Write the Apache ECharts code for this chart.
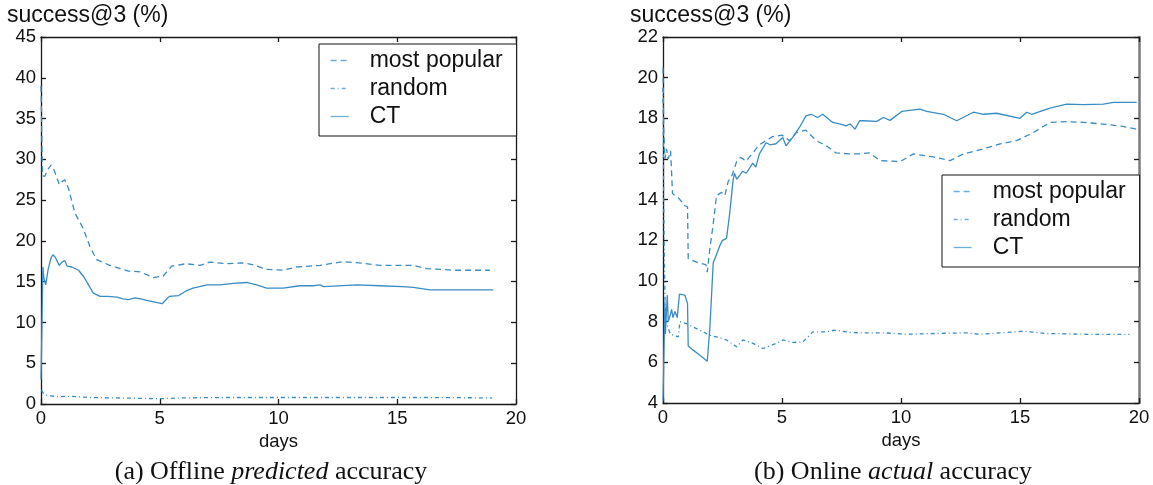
<!DOCTYPE html>
<html>
<head>
<meta charset="utf-8">
<script src="https://cdn.jsdelivr.net/npm/echarts@6/dist/echarts.min.js"></script>
<style>
  html, body { margin: 0; padding: 0; background: #fff; }
  #chart { width: 1153px; height: 485px; }
</style>
</head>
<body>
<div id="chart"></div>
<script>
// Tick values shared by both panels
const dayTicks = [0, 5, 10, 15, 20];

// (a) Offline predicted accuracy: [day, success@3 %]
const offlinePopular = [[0,39],[0.02,35.7],[0.06,28],[0.15,27.9],[0.3,28.8],[0.42,29.3],[0.55,28.7],[0.63,28.7],[0.77,26.9],[0.9,27.3],[1.0,27.5],[1.16,26.4],[1.43,23.4],[1.78,21.5],[2.06,19.3],[2.34,17.7],[2.9,17.0],[3.33,16.6],[3.68,16.3],[4.17,16.2],[4.5,15.8],[4.73,15.5],[5.15,15.7],[5.5,16.9],[6.1,17.2],[6.7,17.0],[7.1,17.4],[7.8,17.2],[8.5,17.3],[8.9,17.1],[9.5,16.5],[10.2,16.4],[10.76,16.8],[11.75,17.0],[12.7,17.45],[13.4,17.3],[14.27,17.0],[15.68,17.0],[16.24,16.6],[17.4,16.4],[18.9,16.4]];
const offlineRandom = [[0.02,1.7],[0.1,1.3],[0.3,1.0],[0.8,0.9],[1.2,0.95],[2,0.8],[3,0.75],[4,0.7],[5,0.65],[6,0.75],[8,0.8],[10,0.8],[12,0.8],[14,0.8],[16,0.8],[19,0.75]];
const offlineCT = [[0,3],[0.03,8],[0.08,16.8],[0.12,15.5],[0.2,14.6],[0.3,16.5],[0.42,17.9],[0.5,18.3],[0.6,18.0],[0.77,17.0],[0.88,17.4],[1.0,17.6],[1.1,16.9],[1.3,16.8],[1.58,16.4],[1.8,15.6],[2.0,14.6],[2.2,13.6],[2.49,13.2],[2.8,13.2],[3.2,13.1],[3.45,12.9],[3.68,12.8],[3.96,13.0],[4.2,12.9],[4.45,12.7],[4.8,12.5],[5.1,12.3],[5.4,13.2],[5.8,13.3],[6.07,13.8],[6.4,14.2],[7.0,14.6],[7.54,14.6],[8.1,14.8],[8.66,14.9],[9.08,14.6],[9.5,14.2],[10.2,14.2],[10.9,14.5],[11.47,14.5],[11.75,14.6],[11.9,14.4],[13.3,14.6],[14.27,14.5],[15.2,14.4],[15.68,14.3],[16.38,14.0],[19.04,14.0]];

// (b) Online actual accuracy: [day, success@3 %]
const onlinePopular = [[0,20.5],[0.03,17.5],[0.08,16.0],[0.15,16.5],[0.22,16.0],[0.32,16.4],[0.4,14.3],[0.5,14.2],[0.64,14.1],[0.92,13.7],[1.03,13.65],[1.06,11.1],[1.41,10.93],[1.8,10.8],[1.86,10.44],[1.97,11.6],[2.11,12.8],[2.25,14.2],[2.46,14.36],[2.6,14.2],[2.74,14.9],[2.9,15.2],[3.1,15.9],[3.26,16.08],[3.5,15.9],[4.05,16.7],[4.6,17.1],[5.0,17.17],[5.32,16.9],[5.6,17.3],[6.0,17.42],[6.44,16.9],[6.86,16.65],[7.27,16.3],[7.83,16.25],[8.26,16.25],[8.68,16.3],[9.12,15.92],[9.96,15.87],[10.52,16.25],[11.36,16.1],[12.06,15.92],[12.62,16.25],[13.46,16.5],[14.16,16.74],[14.86,16.9],[15.56,17.3],[16.26,17.8],[16.96,17.84],[17.66,17.8],[18.5,17.72],[19.3,17.6],[19.9,17.47]];
const onlineRandom = [[0,19.5],[0.03,14],[0.06,10.9],[0.1,8.1],[0.3,7.4],[0.5,7.3],[0.64,7.25],[0.71,8.0],[0.99,7.9],[1.55,7.58],[1.97,7.33],[2.25,7.25],[2.67,7.1],[3.1,6.76],[3.36,7.1],[3.78,6.93],[4.2,6.68],[4.76,6.93],[5.04,7.1],[5.46,6.98],[5.88,7.0],[6.3,7.5],[6.86,7.5],[7.22,7.58],[7.97,7.46],[8.4,7.45],[9.3,7.45],[10.22,7.38],[11.5,7.42],[12.74,7.45],[13.3,7.38],[14.2,7.45],[15.13,7.53],[16.1,7.42],[17,7.4],[18.1,7.37],[19.6,7.38]];
const onlineCT = [[0,4.1],[0.04,6.5],[0.08,9.0],[0.1,7.4],[0.18,9.3],[0.22,8.0],[0.3,8.3],[0.36,8.6],[0.42,8.2],[0.5,8.5],[0.6,8.2],[0.69,9.35],[0.92,9.3],[1.03,8.9],[1.06,6.8],[1.27,6.6],[1.55,6.35],[1.86,6.05],[1.97,7.7],[2.11,10.9],[2.25,11.3],[2.39,11.75],[2.5,12.0],[2.67,12.1],[2.8,13.3],[2.94,14.9],[3.0,15.3],[3.1,15.0],[3.35,15.4],[3.5,15.3],[3.77,15.8],[3.9,15.6],[4.05,16.25],[4.33,16.8],[4.5,16.7],[4.75,16.75],[5.03,17.06],[5.17,16.65],[5.45,17.06],[5.73,17.55],[6.01,18.12],[6.22,18.2],[6.5,18.04],[6.71,18.2],[7.13,17.8],[7.5,17.7],[7.69,17.63],[7.86,17.72],[8.07,17.47],[8.26,17.88],[8.42,17.88],[8.98,17.85],[9.26,18.04],[9.54,17.9],[10.03,18.34],[10.8,18.45],[11.08,18.34],[11.78,18.2],[12.34,17.88],[13.04,18.3],[13.46,18.2],[14.02,18.25],[15.0,18.0],[15.28,18.3],[15.49,18.2],[16.26,18.5],[16.96,18.7],[17.66,18.67],[18.5,18.7],[18.92,18.78],[19.9,18.78]];

const seriesNames = ['most popular', 'random', 'CT'];
const panelCaptions = ['(a) Offline ', 'predicted', ' accuracy', '(b) Online ', 'actual', ' accuracy'];
const yTitle = 'success@3 (%)';

const LINE = '#3a8cc6';
const AXIS = '#1a1a1a';
const SANS = '"Liberation Sans", Arial, Helvetica, sans-serif';
const SERIF = '"Liberation Serif", "Times New Roman", serif';
const dashes = { 'most popular': [6, 4], 'random': [4, 3, 1, 3], 'CT': 'solid' };

const chart = echarts.init(document.getElementById('chart'), null, { renderer: 'canvas' });

function xAxes(gridIndex) {
  const base = {
    gridIndex, type: 'value', min: dayTicks[0], max: dayTicks[dayTicks.length - 1], interval: 5,
    splitLine: { show: false },
    axisLine: { show: true, onZero: false, lineStyle: { color: AXIS, width: 1.3 } },
    axisTick: { show: true, inside: true, length: 5, lineStyle: { color: AXIS, width: 1.3 } }
  };
  return [
    Object.assign({}, base, {
      position: 'bottom',
      axisLabel: { show: true, margin: 5, fontSize: 18.5, color: '#111', fontFamily: SANS, showMinLabel: true, showMaxLabel: true },
      name: 'days', nameLocation: 'middle', nameGap: 28,
      nameTextStyle: { fontSize: 18.5, color: '#111', fontFamily: SANS }
    }),
    Object.assign({}, base, { position: 'top', axisLabel: { show: false } })
  ];
}

function yAxes(gridIndex, min, max, interval, rightStyle) {
  const base = {
    gridIndex, type: 'value', min, max, interval,
    splitLine: { show: false },
    axisLine: { show: true, onZero: false, lineStyle: { color: AXIS, width: 1.3 } },
    axisTick: { show: true, inside: true, length: 5, lineStyle: { color: AXIS, width: 1.3 } }
  };
  const right = Object.assign({}, base, { position: 'right', axisLabel: { show: false } });
  if (rightStyle) right.axisLine = { show: true, onZero: false, lineStyle: rightStyle };
  return [
    Object.assign({}, base, {
      position: 'left',
      axisLabel: { show: true, margin: 5, fontSize: 18.5, color: '#111', fontFamily: SANS, showMinLabel: true, showMaxLabel: true }
    }),
    right
  ];
}

function lineSeries(name, data, xi, yi) {
  return {
    name, type: 'line', data, xAxisIndex: xi, yAxisIndex: yi,
    symbol: 'none', showSymbol: false, smooth: false, animation: false,
    lineStyle: { color: LINE, width: 1.3, type: dashes[name] },
    itemStyle: { color: LINE }
  };
}

// Legend keys show only the dash pattern of each line (the marker is made invisible)
function legendAt(left, top) {
  return {
    left, top, orient: 'vertical', data: seriesNames,
    itemWidth: 18, itemHeight: 14, itemGap: 5,
    padding: [5, 14, 8, 11],
    borderColor: '#111', borderWidth: 1, backgroundColor: '#fff',
    selectedMode: false,
    itemStyle: { color: 'rgba(0,0,0,0)', borderColor: 'rgba(0,0,0,0)', borderWidth: 0, opacity: 0 },
    lineStyle: { color: '#6aaedb', width: 1.3 },
    textStyle: { fontSize: 23, color: '#111', fontFamily: SANS, padding: [0, 0, 0, 16] }
  };
}

function caption(centerX, top, parts) {
  return {
    left: centerX, top, textAlign: 'center', padding: 0,
    text: '{r|' + parts[0] + '}{i|' + parts[1] + '}{r|' + parts[2] + '}',
    textStyle: {
      fontWeight: 'normal',
      rich: {
        r: { fontFamily: SERIF, fontSize: 26, fontWeight: 'normal', color: '#111' },
        i: { fontFamily: SERIF, fontSize: 26, fontWeight: 'normal', fontStyle: 'italic', color: '#111' }
      }
    }
  };
}

const option = {
  backgroundColor: '#fff',
  animation: false,
  title: [
    { text: yTitle, left: 7, top: 4, padding: 0, textStyle: { fontSize: 23, fontWeight: 'normal', color: '#111', fontFamily: SANS } },
    { text: yTitle, left: 630, top: 4, padding: 0, textStyle: { fontSize: 23, fontWeight: 'normal', color: '#111', fontFamily: SANS } },
    caption(271, 459, panelCaptions.slice(0, 3)),
    caption(893, 459, panelCaptions.slice(3, 6))
  ],
  grid: [
    { left: 41, top: 37, width: 475, height: 367 },
    { left: 663, top: 37, width: 476, height: 366 }
  ],
  xAxis: xAxes(0).concat(xAxes(1)),
  yAxis: yAxes(0, 0, 45, 5).concat(yAxes(1, 4, 22, 2, { color: '#7a7a7a', width: 2.5 })),
  legend: [legendAt(319, 44), legendAt(942, 175)],
  series: [
    lineSeries('most popular', offlinePopular, 0, 0),
    lineSeries('random', offlineRandom, 0, 0),
    lineSeries('CT', offlineCT, 0, 0),
    lineSeries('most popular', onlinePopular, 2, 2),
    lineSeries('random', onlineRandom, 2, 2),
    lineSeries('CT', onlineCT, 2, 2)
  ]
};

chart.setOption(option);
</script>
</body>
</html>
